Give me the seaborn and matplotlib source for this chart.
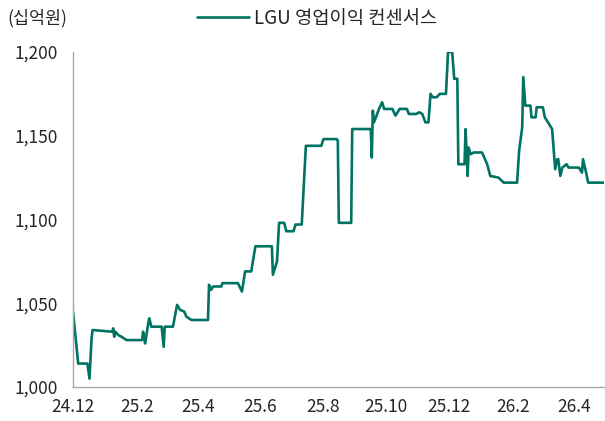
import pandas as pd
import matplotlib
matplotlib.use("Agg")
import matplotlib.pyplot as plt
import matplotlib.ticker as mticker
import seaborn as sns

# Data: LGU operating profit consensus (KRW bn)
dates = [
    "2024-12-01", "2024-12-06", "2024-12-15", "2024-12-17", "2024-12-19", "2024-12-20",
    "2025-01-08", "2025-01-09", "2025-01-10", "2025-01-11", "2025-01-14", "2025-01-17",
    "2025-01-22", "2025-02-06", "2025-02-07", "2025-02-09", "2025-02-12", "2025-02-13",
    "2025-02-15", "2025-02-25", "2025-02-27", "2025-02-28", "2025-03-08", "2025-03-12",
    "2025-03-15", "2025-03-19", "2025-03-21", "2025-03-26", "2025-04-11", "2025-04-12",
    "2025-04-14", "2025-04-16", "2025-04-24", "2025-04-25", "2025-05-10", "2025-05-14",
    "2025-05-17", "2025-05-23", "2025-05-27", "2025-06-12", "2025-06-13", "2025-06-17",
    "2025-06-19", "2025-06-24", "2025-06-26", "2025-07-03", "2025-07-05", "2025-07-11",
    "2025-07-15", "2025-07-30", "2025-08-01", "2025-08-14", "2025-08-15", "2025-08-16",
    "2025-08-28", "2025-08-29", "2025-09-16", "2025-09-17", "2025-09-18", "2025-09-19",
    "2025-09-21", "2025-09-24", "2025-09-27", "2025-09-29", "2025-10-07", "2025-10-10",
    "2025-10-14", "2025-10-21", "2025-10-23", "2025-10-30", "2025-11-02", "2025-11-05",
    "2025-11-08", "2025-11-11", "2025-11-13", "2025-11-15", "2025-11-19", "2025-11-22",
    "2025-11-28", "2025-11-30", "2025-12-04", "2025-12-06", "2025-12-09", "2025-12-10",
    "2025-12-16", "2025-12-17", "2025-12-19", "2025-12-20", "2025-12-22", "2025-12-25",
    "2026-01-02", "2026-01-07", "2026-01-10", "2026-01-18", "2026-01-23", "2026-02-05",
    "2026-02-07", "2026-02-10", "2026-02-11", "2026-02-13", "2026-02-18", "2026-02-19",
    "2026-02-23", "2026-02-24", "2026-03-02", "2026-03-04", "2026-03-08", "2026-03-11",
    "2026-03-14", "2026-03-16", "2026-03-17", "2026-03-19", "2026-03-21", "2026-03-25",
    "2026-03-27", "2026-04-06", "2026-04-09", "2026-04-10", "2026-04-13", "2026-04-15",
    "2026-04-30",
]
consensus = [
    1045, 1014, 1014, 1005, 1029, 1034,
    1033, 1035, 1030, 1033, 1031, 1030,
    1028, 1028, 1033, 1026, 1038, 1041,
    1036, 1036, 1024, 1036, 1036, 1049,
    1046, 1045, 1042, 1040, 1040, 1061,
    1058, 1060, 1060, 1062, 1062, 1057,
    1069, 1069, 1084, 1084, 1067, 1075,
    1098, 1098, 1093, 1093, 1097, 1097,
    1144, 1144, 1148, 1148, 1147, 1098,
    1098, 1154, 1154, 1137, 1165, 1158,
    1161, 1166, 1170, 1166, 1166, 1162,
    1166, 1166, 1163, 1163, 1164, 1163,
    1158, 1158, 1175, 1173, 1173, 1175,
    1175, 1200, 1200, 1184, 1184, 1133,
    1133, 1154, 1126, 1143, 1139, 1140,
    1140, 1133, 1126, 1125, 1122, 1122,
    1141, 1155, 1185, 1168, 1168, 1161,
    1161, 1167, 1167, 1161, 1157, 1154,
    1130, 1136, 1136, 1126, 1131, 1133,
    1131, 1131, 1128, 1136, 1128, 1122,
    1122,
]
tick_months = ["2024-12-01", "2025-02-01", "2025-04-01", "2025-06-01", "2025-08-01",
               "2025-10-01", "2025-12-01", "2026-02-01", "2026-04-01"]
tick_labels = ["24.12", "25.2", "25.4", "25.6", "25.8", "25.10", "25.12", "26.2", "26.4"]

LINE_COLOR = "#007363"
TEXT_COLOR = "#262626"
SPINE_COLOR = "#A6A6A6"

df = pd.DataFrame({"date": pd.to_datetime(dates), "value": consensus})

sns.set_theme(style="white")
plt.rcParams["font.family"] = ["Noto Sans CJK KR", "DejaVu Sans"]
plt.rcParams["font.weight"] = "light"

fig = plt.figure(figsize=(6.05, 4.21), dpi=100)
ax = fig.add_axes([0.1207, 0.0808, 0.877, 0.7957])

sns.lineplot(data=df, x="date", y="value", ax=ax, color=LINE_COLOR,
             linewidth=1.9, label="LGU 영업이익 컨센서스")

ax.set_xlim(pd.Timestamp("2024-12-01"), pd.Timestamp("2026-04-30"))
ax.set_ylim(1000, 1200)
ax.set_xticks(pd.to_datetime(tick_months))
ax.set_xticklabels(tick_labels)
ax.yaxis.set_major_locator(mticker.MultipleLocator(50))
ax.yaxis.set_major_formatter(mticker.StrMethodFormatter("{x:,.0f}"))
ax.set_xlabel("")
ax.set_ylabel("")

for side in ["top", "right"]:
    ax.spines[side].set_visible(False)
for side in ["left", "bottom"]:
    ax.spines[side].set_color(SPINE_COLOR)
    ax.spines[side].set_linewidth(1.0)
ax.tick_params(axis="both", direction="out", length=5, width=1.0,
               color=SPINE_COLOR, labelsize=12.5, labelcolor=TEXT_COLOR, pad=3)
ax.tick_params(axis="y", pad=6)

leg = ax.legend(loc="center", bbox_to_anchor=(0.524, 0.957),
                bbox_transform=fig.transFigure, frameon=False,
                fontsize=13.5, handlelength=2.8, handletextpad=0.25)
for t in leg.get_texts():
    t.set_color(TEXT_COLOR)

fig.text(0.012, 0.957, "(십억원)", fontsize=12.5, color=TEXT_COLOR,
         ha="left", va="center")

fig.savefig("out.png", dpi=100)
